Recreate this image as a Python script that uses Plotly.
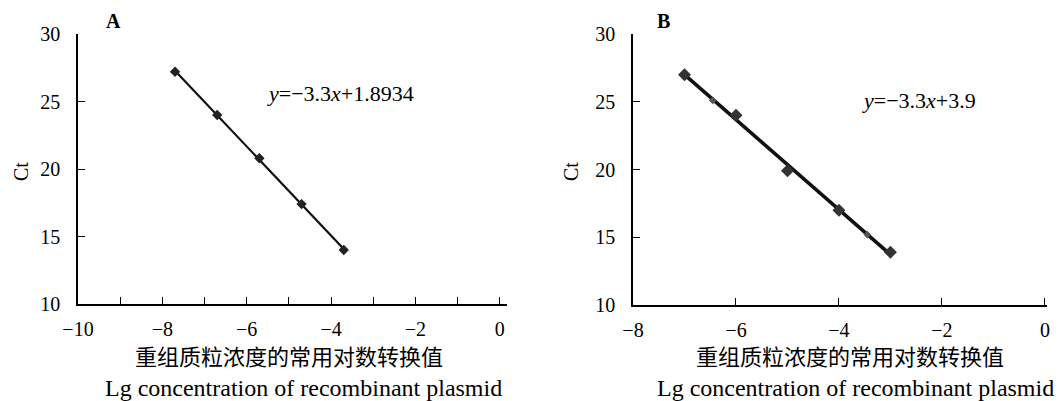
import numpy as np
import plotly.graph_objects as go

# ---------------- data ----------------
a_x = [-7.7, -6.7, -5.7, -4.7, -3.7]
a_y = [27.2, 24.0, 20.8, 17.4, 14.0]

b_x = [-7.0, -6.0, -5.0, -4.0, -3.0]
b_y = [27.0, 24.0, 19.9, 17.0, 13.9]
b_rep_x = [-6.45, -3.45]
b_rep_y = [25.1, 15.2]

eq_a = "<i>y</i>=−3.3<i>x</i>+1.8934"
eq_b = "<i>y</i>=−3.3<i>x</i>+3.9"
y_title = "Ct"
x_title_cn = "重组质粒浓度的常用对数转换值"
x_title_en = "Lg concentration of recombinant plasmid"
y_ticks = [10, 15, 20, 25, 30]

OFF = 8  # page body margin
W, H = 1063 - OFF, 401 - OFF
SERIF = "Liberation Serif, Times New Roman, serif"
CJK = "Liberation Serif, Noto Sans CJK SC, sans-serif"

def px(x):
    return (x - OFF) / W

def py(y):
    return 1 - (y - OFF) / H

fig = go.Figure()

# fitted lines
for xs, ys, xa, ya, lw in [(a_x, a_y, "x", "y", 2.2), (b_x, b_y, "x2", "y2", 3.6)]:
    k, b0 = np.polyfit(xs, ys, 1)
    lx = np.array([min(xs), max(xs)])
    fig.add_trace(go.Scatter(x=lx, y=k * lx + b0, mode="lines",
                             line=dict(color="#111111", width=lw),
                             xaxis=xa, yaxis=ya, showlegend=False, hoverinfo="skip"))

fig.add_trace(go.Scatter(x=a_x, y=a_y, mode="markers",
                         marker=dict(symbol="diamond", size=8, color="#222222"),
                         xaxis="x", yaxis="y", showlegend=False))
fig.add_trace(go.Scatter(x=b_rep_x, y=b_rep_y, mode="markers",
                         marker=dict(symbol="diamond", size=6, color="#555555"),
                         xaxis="x2", yaxis="y2", showlegend=False))
fig.add_trace(go.Scatter(x=b_x, y=b_y, mode="markers",
                         marker=dict(symbol="diamond", size=10, color="#333333"),
                         xaxis="x2", yaxis="y2", showlegend=False))

axis_common = dict(showline=True, linecolor="black", linewidth=1.5, showgrid=False,
                   zeroline=False, ticks="inside", ticklen=7, tickwidth=1.2, automargin=False,
                   tickcolor="black", tickfont=dict(family=SERIF, size=20, color="black"))

fig.update_layout(
    width=W, height=H,
    margin=dict(l=0, r=0, t=0, b=0, autoexpand=False),
    paper_bgcolor="white", plot_bgcolor="white",
    xaxis=dict(domain=[px(78), px(507)], range=[-10, 0.17], tickvals=[-10, -8, -6, -4, -2, 0],
               ticktext=["−10", "−8", "−6", "−4", "−2", "0"],
               minor=dict(dtick=1, tick0=0, ticks="inside", ticklen=7, tickcolor="black", tickwidth=1.2),
               anchor="y", ticklabelstandoff=6, **axis_common),
    yaxis=dict(domain=[py(304), py(34)], range=[10, 30], tickvals=y_ticks,
               anchor="x", ticklabelstandoff=12, **axis_common),
    xaxis2=dict(domain=[px(633), px(1047)], range=[-8, 0.04], tickvals=[-8, -6, -4, -2, 0],
                ticktext=["−8", "−6", "−4", "−2", "0"],
                anchor="y2", ticklabelstandoff=6, **axis_common),
    yaxis2=dict(domain=[py(305), py(34)], range=[10, 30], tickvals=y_ticks,
                anchor="x2", ticklabelstandoff=12, **axis_common),
)

def ann(text, x, y, size, xanchor="center", angle=0, family=SERIF):
    fig.add_annotation(text=text, x=px(x), y=py(y), xref="paper", yref="paper",
                       xanchor=xanchor, yanchor="middle", showarrow=False, textangle=angle,
                       font=dict(family=family, size=size, color="black"))

ann("<b>A</b>", 113, 21, 20)
ann("<b>B</b>", 663, 21, 20)
ann(eq_a, 265, 93, 22, xanchor="left")
ann(eq_b, 860, 100, 22, xanchor="left")
ann(y_title, 21, 172, 20, angle=-90)
ann(y_title, 571, 172, 20, angle=-90)
ann(x_title_cn, 289, 357, 22, family=CJK)
ann(x_title_cn, 850, 357, 22, family=CJK)
ann(x_title_en, 303, 388, 24)
ann(x_title_en, 855, 388, 24)

fig.write_html("out.html")
